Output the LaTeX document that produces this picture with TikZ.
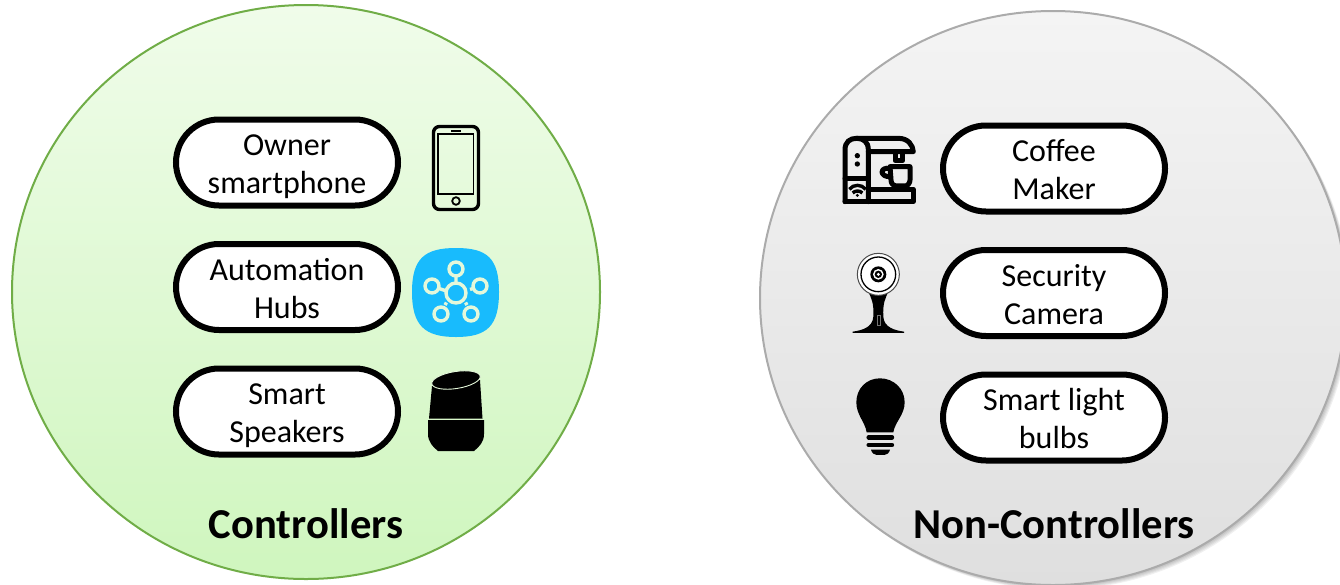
\documentclass[tikz,border=0pt]{standalone}
\usepackage{fontspec}
\setmainfont{Carlito}
\usetikzlibrary{positioning}
\definecolor{ctrlline}{HTML}{70AD47}
\definecolor{ctrltop}{HTML}{F0FCEA}
\definecolor{ctrlbot}{HTML}{CFF6BE}
\definecolor{nonline}{HTML}{ABABAB}
\definecolor{nontop}{HTML}{F4F4F4}
\definecolor{nonbot}{HTML}{DFDFDF}
\definecolor{hubblue}{HTML}{18BBFD}
\definecolor{hubring}{HTML}{E4F8DA}
\tikzset{
	devicebox/.style={draw=black,line width=6pt,fill=white,rounded corners=43pt,minimum width=222pt,minimum height=86pt,inner sep=0pt,align=center,text height=62pt,text depth=0pt,font=\fontsize{32}{38}\selectfont},
	grouptitle/.style={inner sep=0pt,font=\fontsize{42.6}{48}\selectfont\bfseries},
	iconline/.style={draw=black,line width=5pt,line join=round,line cap=round},
	hubline/.style={draw=hubring,line width=3.4pt},
}
\begin{document}
\begin{tikzpicture}[x=1pt,y=-1pt]
	\useasboundingbox (0,0) rectangle (1340,584);
	% the two groups
	\shade[top color=ctrltop,bottom color=ctrlbot] (306,292) ellipse (294 and 287);
	\draw[ctrlline,line width=2pt] (306,292) ellipse (294 and 287);
	\foreach \s in {1,...,5}{
		\fill[black,opacity=0.06] (1053+\s*0.9,298+\s*0.9) ellipse (293 and 287);
	}
	\shade[top color=nontop,bottom color=nonbot] (1053,298) ellipse (293 and 287);
	\draw[nonline,line width=2pt] (1053,298) ellipse (293 and 287);
	% left boxes
	\node[devicebox] (owner) at (287,162.5) {Owner\\smartphone};
	\node[devicebox,below=32.5pt of owner] (hubs) {Automation\\Hubs};
	\node[devicebox,below=32.5pt of hubs] (speakers) {Smart\\Speakers};
	% right boxes
	\node[devicebox] (coffee) at (1054,168.5) {Coffee\\Maker};
	\node[devicebox,below=32.5pt of coffee] (camera) {Security\\Camera};
	\node[devicebox,below=32.5pt of camera] (bulbs) {Smart light\\bulbs};
	\node[grouptitle] (ctrl) at (306,524) {Controllers};
	\node[grouptitle] (nonctrl) at (1054,524) {Non-Controllers};
	% phone
	\draw[iconline,line width=3.4pt,rounded corners=6pt] (433.5,126.5) rectangle (478.5,209.5);
	\draw[black,line width=1.6pt] (438,134) rectangle (473.5,194);
	\draw[black,line width=1.8pt] (456,201) circle (3.8);
	\draw[black,line width=1.2pt] (451,131) -- (461,131);
	% hub
	\fill[hubblue] (412,292) .. controls (412,258) and (425,248) .. (456,248) .. controls (487,248) and (499,258) .. (499,292) .. controls (499,326) and (487,337) .. (456,337) .. controls (425,337) and (412,326) .. (412,292) -- cycle;
	\draw[hubline] (456,293) circle (10);
	\foreach \hx/\hy in {456/269,432/286,480/286,441/314,471/314}{
		\draw[hubline] (\hx,\hy) circle (7);
	}
	\draw[hubline] (456,276) -- (456,283) (439,288.5) -- (446.5,291) (473,288.5) -- (470,289.5) (445,305) -- (446.5,302.5) (467,305) -- (465.5,302.5);
	% speaker
	\fill[black] (432,386) -- (480,380) -- (482.5,418.6) -- (429,418.6) -- cycle;
	\fill[black] (428,420.2) -- (484,420.2) -- (484,434) .. controls (484,442) and (479,447) .. (474,451) -- (438,451) .. controls (433,447) and (428,442) .. (428,434) -- cycle;
	\draw[fill=black,draw=hubring,line width=0.9pt,rotate around={9:(456,380)}] (456,380) ellipse (24.5 and 8.5);
	% coffee maker
	\begin{scope}[shift={(830,120)},x=0.3333pt,y=-0.3333pt]
		\draw[iconline] (45,245) -- (45,90) .. controls (45,65) and (60,55) .. (80,55) .. controls (100,55) and (115,65) .. (115,90) -- (115,245);
		\draw[iconline] (45,245) -- (250,245) -- (250,208) -- (115,208);
		\draw[iconline] (45,175) -- (115,175);
		\draw[iconline] (80,55) -- (205,55) .. controls (235,55) and (248,75) .. (250,95) -- (115,95);
		\draw[iconline] (195,98) -- (195,122) -- (218,122) -- (218,98);
		\fill[black] (82,107) circle (8) (82,132) circle (8);
		\draw[iconline] (180,140) -- (240,140) -- (240,180) .. controls (240,190) and (232,198) .. (225,198) -- (197,198) .. controls (190,198) and (183,190) .. (183,180) -- cycle;
		\draw[iconline] (180,145) .. controls (148,140) and (148,172) .. (182,170);
		\draw[black,line width=3.4pt] (58,208) .. controls (70,192) and (95,192) .. (107,208);
		\draw[black,line width=3.4pt] (68,219) .. controls (76,211) and (89,211) .. (97,219);
		\fill[black] (82,226) circle (5);
	\end{scope}
	% security camera
	\begin{scope}[shift={(830,245)},x=0.3333pt,y=-0.3333pt]
		\fill[black] (112,135) .. controls (125,160) and (132,175) .. (130,215) .. controls (128,248) and (95,256) .. (68,260) -- (68,264) -- (222,264) -- (222,260) .. controls (195,256) and (162,248) .. (160,215) .. controls (158,175) and (165,160) .. (178,135) -- cycle;
		\fill[white] (145,88) circle (63);
		\draw[black!70,line width=1pt] (145,88) circle (63);
		\draw[black,line width=1.3pt] (145,88) circle (52);
		\fill[black] (145,88) circle (24);
		\fill[white] (145,88) circle (16);
		\fill[black] (145,88) circle (11);
		\fill[white] (145,88) circle (5);
		\draw[black!55,line width=0.8pt] (141,212) rectangle (150,242);
	\end{scope}
	% light bulb
	\begin{scope}[shift={(830,245)},x=0.3333pt,y=-0.3333pt]
		\fill[black] (150,400) .. controls (190,400) and (224,430) .. (224,472) .. controls (224,510) and (195,530) .. (190,562) -- (110,562) .. controls (105,530) and (79,510) .. (79,472) .. controls (79,430) and (110,400) .. (150,400) -- cycle;
		\draw[black,line width=4.4pt,line cap=round] (116,577) -- (186,577) (116,600) -- (186,600);
		\fill[black] (123,614) -- (180,614) .. controls (178,624) and (170,630) .. (163,630) -- (140,630) .. controls (133,630) and (125,624) .. (123,614) -- cycle;
	\end{scope}
\end{tikzpicture}
\end{document}
